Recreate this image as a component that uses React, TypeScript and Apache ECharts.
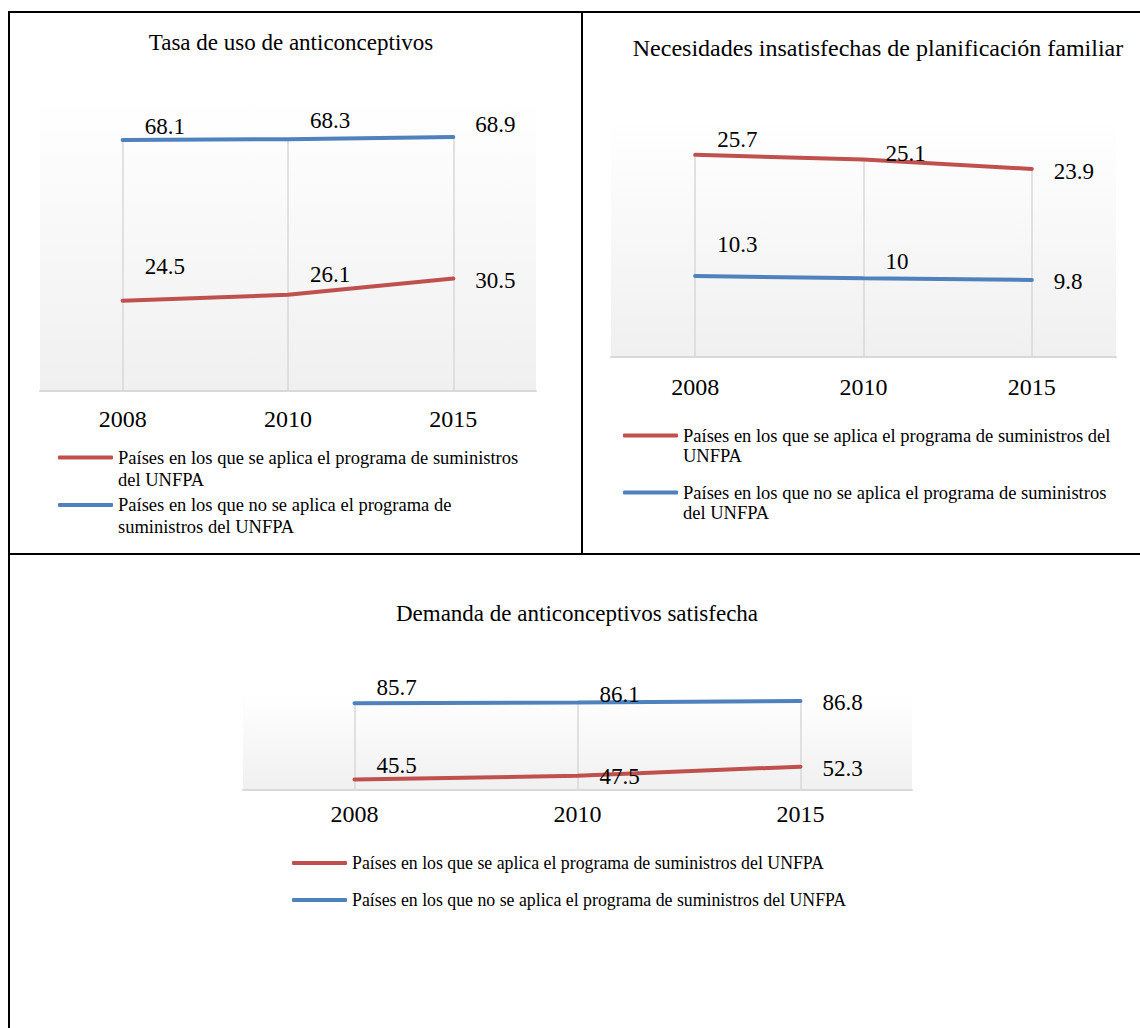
import React, { useEffect, useRef } from "react";
import * as echarts from "echarts";

// ---------- data ----------
const years = ["2008", "2010", "2015"];

const nameSi = "Países en los que se aplica el programa de suministros del UNFPA";
const nameNo = "Países en los que no se aplica el programa de suministros del UNFPA";

const titles = [
  "Tasa de uso de anticonceptivos",
  "Necesidades insatisfechas de planificación familiar",
  "Demanda de anticonceptivos satisfecha",
];

const usoSi = [24.5, 26.1, 30.5];
const usoNo = [68.1, 68.3, 68.9];
const necSi = [25.7, 25.1, 23.9];
const necNo = [10.3, 10, 9.8];
const demSi = [45.5, 47.5, 52.3];
const demNo = [85.7, 86.1, 86.8];

const seriesSi = [usoSi, necSi, demSi];
const seriesNo = [usoNo, necNo, demNo];

const yMin = [0, 0, 40];
const yMax = [80, 30, 90];

// ---------- layout / style ----------
const FONT = "Liberation Serif";
const RED = "#C0504D";
const BLUE = "#4F81BD";

const panels = [
  {
    grid: { left: 40, top: 96, width: 496, height: 295 },
    title: { x: 291, y: 42, size: 23 },
    legendLeft: 58,
    legendIcon: [457.5, 505],
    legendLine: 22,
    breakSi: 10,
    breakNo: 10,
    legendFont: 18.5,
    labelMargin: 16,
    dySi: [-34, -20, 2],
    dyNo: [-13, -19, -12],
  },
  {
    grid: { left: 611, top: 121, width: 505, height: 236 },
    title: { x: 878, y: 48, size: 24 },
    legendLeft: 623,
    legendIcon: [435.5, 492.5],
    legendLine: 20,
    breakSi: 11,
    breakNo: 11,
    legendFont: 18.5,
    labelMargin: 18,
    dySi: [-15, -6, 3],
    dyNo: [-31, -17, 2],
  },
  {
    grid: { left: 243, top: 695, width: 669, height: 95 },
    title: { x: 577, y: 613, size: 23 },
    legendLeft: 292,
    legendIcon: [863, 900],
    legendLine: 20,
    breakSi: 0,
    breakNo: 0,
    legendFont: 17.8,
    labelMargin: 12,
    dySi: [-14, 1, 2],
    dyNo: [-16, -8, 1],
  },
];

// Excel places the legend key on the first text line: a leading empty line
// centres the first real line on the key.
function wrap(name: string, n: number) {
  if (!n) return name;
  const w = name.split(" ");
  return "\n" + w.slice(0, n).join(" ") + "\n" + w.slice(n).join(" ");
}

export default function App() {
  const ref = useRef<HTMLDivElement>(null);

  useEffect(() => {
    if (!ref.current) return;
    const chart = echarts.init(ref.current, undefined, { renderer: "svg" });

    const grids: any[] = [];
    const xAxes: any[] = [];
    const yAxes: any[] = [];
    const series: any[] = [];
    const titleOpts: any[] = [];
    const legends: any[] = [];

    panels.forEach((p, i) => {
      grids.push({
        ...p.grid,
        show: true,
        borderWidth: 0,
        backgroundColor: new echarts.graphic.LinearGradient(0, 0, 0, 1, [
          { offset: 0, color: "#ffffff" },
          { offset: 1, color: "#f0f0f0" },
        ]),
      });
      xAxes.push({
        type: "category",
        gridIndex: i,
        data: years,
        boundaryGap: true,
        axisLine: { show: true, lineStyle: { color: "#d9d9d9", width: 2 } },
        axisTick: { show: false },
        splitLine: { show: false },
        axisLabel: {
          color: "#000",
          fontFamily: FONT,
          fontSize: 24,
          margin: p.labelMargin,
        },
      });
      yAxes.push({
        type: "value",
        gridIndex: i,
        min: yMin[i],
        max: yMax[i],
        show: false,
        splitLine: { show: false },
      });

      const si = seriesSi[i];
      const no = seriesNo[i];
      const mk = (vals: number[], dys: number[]) =>
        vals.map((v, j) => ({ value: v, label: { offset: [0, dys[j]] } }));

      const lineBase = {
        type: "line",
        xAxisIndex: i,
        yAxisIndex: i,
        showSymbol: true,
        symbol: "circle",
        symbolSize: 2,
        smooth: false,
        silent: true,
        z: 3,
        label: {
          show: true,
          position: "right",
          distance: 21,
          color: "#000",
          fontFamily: FONT,
          fontSize: 23,
        },
      };

      // drop lines
      series.push({
        type: "line",
        name: "drop" + i,
        xAxisIndex: i,
        yAxisIndex: i,
        data: [],
        silent: true,
        markLine: {
          silent: true,
          symbol: "none",
          z: 1,
          animation: false,
          label: { show: false },
          lineStyle: { color: "#d9d9d9", width: 1.5, type: "solid" },
          data: years.map((y, j) => [
            { coord: [y, Math.max(si[j], no[j])] },
            { coord: [y, yMin[i]] },
          ]),
        },
      });

      series.push({
        ...lineBase,
        name: nameSi,
        data: mk(si, p.dySi),
        lineStyle: { color: RED, width: 4, cap: "round" },
        itemStyle: { color: RED },
      });
      series.push({
        ...lineBase,
        name: nameNo,
        data: mk(no, p.dyNo),
        lineStyle: { color: BLUE, width: 4, cap: "round" },
        itemStyle: { color: BLUE },
      });

      titleOpts.push({
        text: titles[i],
        left: p.title.x,
        top: p.title.y,
        textAlign: "center",
        textVerticalAlign: "middle",
        padding: 0,
        textStyle: {
          fontFamily: FONT,
          fontSize: p.title.size,
          fontWeight: "normal",
          color: "#000",
        },
      });

      const twoLine = p.breakSi > 0;
      [nameSi, nameNo].forEach((nm, k) => {
        const brk = k === 0 ? p.breakSi : p.breakNo;
        legends.push({
          data: [nm],
          left: p.legendLeft,
          top: p.legendIcon[k] - (twoLine ? 1.5 * p.legendLine : p.legendLine / 2),
          orient: "vertical",
          padding: 0,
          selectedMode: false,
          icon: "roundRect",
          itemWidth: 55,
          itemHeight: 4,
          itemGap: 0,
          formatter: () => wrap(nm, brk),
          textStyle: {
            fontFamily: FONT,
            fontSize: p.legendFont,
            color: "#000",
            lineHeight: p.legendLine,
          },
        });
      });
    });

    const border = { stroke: "#000", lineWidth: 2 };
    const graphic = [
      { type: "line", shape: { x1: 8, y1: 12, x2: 1140, y2: 12 }, style: border },
      { type: "line", shape: { x1: 9, y1: 11, x2: 9, y2: 1028 }, style: border },
      { type: "line", shape: { x1: 582, y1: 12, x2: 582, y2: 554 }, style: border },
      { type: "line", shape: { x1: 8, y1: 554, x2: 1140, y2: 554 }, style: border },
    ];

    chart.setOption({
      animation: false,
      backgroundColor: "#ffffff",
      title: titleOpts,
      legend: legends,
      grid: grids,
      xAxis: xAxes,
      yAxis: yAxes,
      series,
      graphic,
    });

    return () => chart.dispose();
  }, []);

  return (
    <div
      ref={ref}
      style={{ position: "absolute", left: 0, top: 0, width: 1140, height: 1028 }}
    />
  );
}
